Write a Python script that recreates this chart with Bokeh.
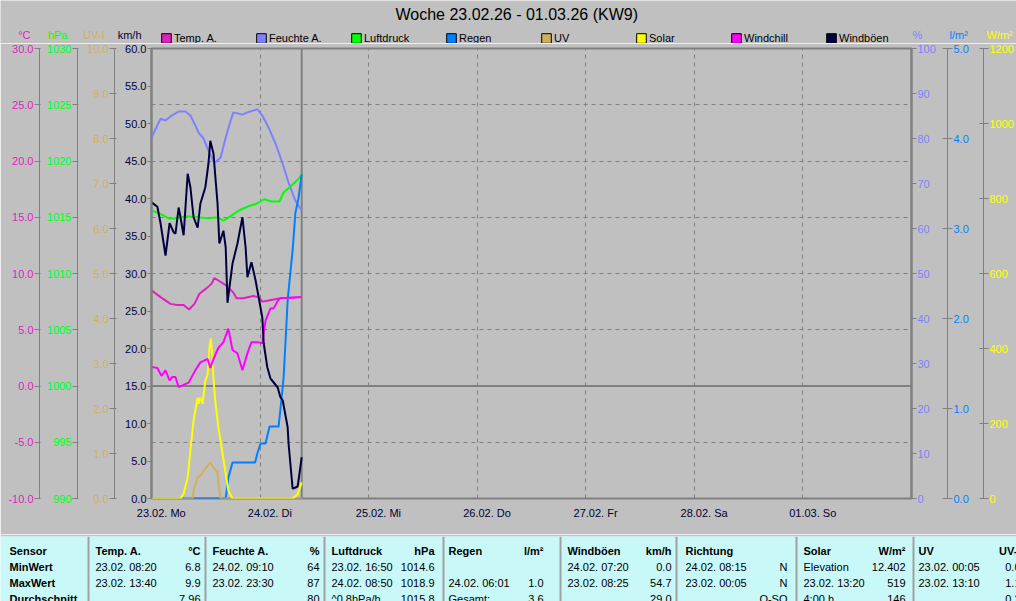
from bokeh.plotting import figure
from bokeh.models import (Range1d, LinearAxis, FixedTicker, NumeralTickFormatter,
                          Span, Label, Legend, LegendItem)
from bokeh.layouts import column
from bokeh.embed import file_html
from bokeh.resources import INLINE
from bokeh.core.properties import value

NAN = float("nan")

# ---------------- data (x = hours since 23.02. 00:00) ----------------
temp_t = [0.0, 2.0, 4.2, 5.7, 7.1, 8.3, 9.5, 10.6, 12.2, 13.3, 13.9, 15.5, 16.6, 18.1, 18.8, 20.3, 22.5, 23.7, 24.5, 25.9, 28.5, 33.2]
temp_v = [8.5, 7.9, 7.3, 7.2, 7.2, 6.8, 7.3, 8.2, 8.7, 9.1, 9.6, 9.2, 8.9, 8.3, 7.8, 7.8, 8.0, 7.9, 7.5, 7.6, 7.8, 7.9]

hum_t = [0.0, 2.0, 3.1, 4.2, 6.0, 7.5, 8.6, 9.7, 10.4, 11.5, 12.6, 13.7, 14.1, 15.3, 16.4, 17.5, 18.1, 20.1, 21.2, 23.4, 24.5, 25.9, 27.4, 29.0, 30.3, 31.8, 33.2]
hum_v = [80.2, 84.4, 84.0, 84.9, 86.0, 86.0, 85.1, 82.9, 81.3, 80.0, 77.3, 74.9, 74.7, 75.8, 80.2, 84.0, 85.8, 85.3, 85.8, 86.5, 85.1, 82.4, 78.9, 74.4, 70.2, 66.2, 64.0]

pres_t = [0.0, 2.0, 3.8, 5.7, 7.5, 10.4, 12.4, 14.6, 15.9, 17.5, 19.3, 21.6, 23.2, 24.9, 26.5, 28.3, 29.2, 30.9, 32.5, 33.2]
pres_v = [1015.6, 1015.3, 1014.9, 1014.9, 1015.1, 1015.0, 1014.9, 1015.0, 1014.7, 1015.1, 1015.6, 1016.0, 1016.2, 1016.6, 1016.4, 1016.4, 1017.2, 1017.8, 1018.4, 1018.8]

rain_t = [0.0, 16.4, 17.0, 17.9, 22.9, 23.4, 24.1, 25.2, 26.1, 28.1, 28.7, 29.2, 29.6, 30.1, 30.3, 31.2, 31.8, 32.5, 33.2]
rain_v = [0.0, 0.0, 0.23, 0.40, 0.40, 0.50, 0.61, 0.61, 0.80, 0.80, 1.09, 1.34, 1.72, 2.20, 2.31, 2.76, 3.17, 3.34, 3.60]

uv_t = [0.0, 9.1, 9.3, 10.2, 10.8, 11.9, 13.0, 13.7, 14.6, 14.8, 15.3, 33.2]
uv_v = [0.0, 0.0, 0.18, 0.47, 0.51, 0.67, 0.80, 0.69, 0.58, 0.33, 0.0, 0.0]

sol_t = [0.0, 6.4, 7.1, 8.0, 8.6, 9.3, 10.2, 10.4, 10.8, 11.3, 11.9, 12.4, 12.8, 13.1, 13.4, 13.7, 14.1, 14.8, 15.7, 16.4, 17.0, 17.9, 31.2, 32.3, 33.2]
sol_v = [0, 0, 13, 56, 128, 208, 269, 253, 269, 253, 315, 330, 400, 427, 390, 320, 261, 189, 120, 67, 21, 0, 0, 11, 43]

wc_t = [0.0, 1.3, 2.2, 3.1, 4.0, 4.6, 5.3, 6.0, 8.2, 9.7, 10.8, 12.4, 13.0, 13.7, 14.8, 15.9, 17.0, 17.9, 19.0, 20.1, 21.2, 22.1, 23.4, 24.5, 25.2, 26.3, 27.0, 28.1, 28.5, 33.2]
wc_v = [1.7, 1.6, 0.9, 1.4, 0.5, 0.8, 0.8, -0.1, 0.3, 1.4, 2.1, 2.4, 1.6, 2.4, 3.4, 3.9, 5.1, 3.2, 2.9, 1.4, 2.9, 3.9, 3.9, 3.8, 5.8, 6.9, 6.9, 7.7, 7.8, 7.9]

gust_t = [0.0, 1.3, 2.0, 3.1, 4.0, 4.9, 5.3, 6.0, 6.4, 7.1, 8.0, 8.6, 9.3, 10.2, 10.8, 11.9, 12.6, 13.0, 13.7, 14.6, 15.0, 15.9, 16.4, 16.8, 17.9, 19.0, 20.1, 20.8, 21.2, 22.1, 23.0, 23.7, 24.5, 24.8, 25.6, 26.3, 27.9, 28.5, 29.0, 30.1, 30.3, 31.2, 32.3, 32.5, 33.2]
gust_v = [39.5, 38.9, 36.7, 32.4, 36.7, 35.5, 35.3, 38.8, 37.5, 35.1, 43.3, 41.5, 37.5, 36.1, 39.3, 41.5, 44.7, 47.7, 46.0, 39.3, 34.0, 35.7, 33.5, 26.1, 31.3, 34.0, 37.5, 33.5, 29.5, 31.5, 29.1, 26.8, 24.1, 20.7, 17.5, 16.0, 14.8, 13.5, 13.1, 9.5, 7.3, 1.3, 1.6, 2.4, 5.5]

now_h = 33.2  # current time marker (24.02. 09:10)

title_text = "Woche 23.02.26 - 01.03.26 (KW9)"
day_labels = ["23.02.  Mo", "24.02.  Di", "25.02.  Mi", "26.02.  Do", "27.02.  Fr", "28.02.  Sa", "01.03.  So"]
series_names = ["Temp. A.", "Feuchte A.", "Luftdruck", "Regen", "UV", "Solar", "Windchill", "Windböen"]
unit_left = ["km/h", "UV-I", "hPa", "°C"]
unit_right = ["%", "l/m²", "W/m²"]

# table data
row_names = ["Sensor", "MinWert", "MaxWert", "Durchschnitt"]
headers = ["Temp. A.", "Feuchte A.", "Luftdruck", "Regen", "Windböen", "Richtung", "Solar", "UV"]
units = ["°C", "%", "hPa", "l/m²", "km/h", "", "W/m²", "UV-I"]
min_when = ["23.02.  08:20", "24.02.  09:10", "23.02.  16:50", "", "24.02.  07:20", "24.02.  08:15", "Elevation", "23.02.  00:05"]
min_val = ["6.8", "64", "1014.6", "", "0.0", "N", "12.402", "0.0"]
max_when = ["23.02.  13:40", "23.02.  23:30", "24.02.  08:50", "24.02.  06:01", "23.02.  08:25", "23.02.  00:05", "23.02.  13:20", "23.02.  13:10"]
max_val = ["9.9", "87", "1018.9", "1.0", "54.7", "N", "519", "1.1"]
avg_when = ["", "", "^0.8hPa/h", "Gesamt:", "", "", "4:00 h", ""]
avg_val = ["7.96", "80", "1015.8", "3.6", "29.0", "O-SO", "146", "0.2"]

# ---------------- styles / layout constants ----------------
FONT = "Liberation Sans"
BG = "#C0C0C0"
GL = "#808080"
C_TEMP = "#E020C0"
C_HUM = "#8080FF"
C_PRES = "#00FF00"
C_RAIN = "#0080FF"
C_UV = "#D0B060"
C_SOL = "#FFFF00"
C_WC = "#FF00FF"
C_GUST = "#000040"

W = 1016
HEAD_H = 43
left_axis_x = [151, 114, 77, 40]     # screen x of left axis lines (km/h, UV, hPa, degC)
right_axis_x = [911, 948, 985]       # screen x of right axis lines (%, l/m2, W/m2)

# ---------------- header (title, legend, units) ----------------
hd = figure(width=W, height=HEAD_H, x_range=Range1d(0, W), y_range=Range1d(HEAD_H, 0),
            output_backend="svg", toolbar_location=None, x_axis_type=None, y_axis_type=None,
            min_border=0, background_fill_color=BG, border_fill_color=BG, outline_line_color=None)
hd.frame_align = False
hd.grid.visible = False

hd.add_layout(Label(x=395, y=14, text=title_text, text_align="left", text_baseline="middle",
                    text_font=FONT, text_font_size="16px", text_color="#000000"))
left_cols = [C_GUST, C_UV, C_PRES, C_TEMP]
for ax_x, u, c in zip(left_axis_x, unit_left, left_cols):
    hd.add_layout(Label(x=ax_x - 10, y=34, text=u, text_align="right", text_baseline="middle",
                        text_font=FONT, text_font_size="11px", text_color=c))
right_cols = [C_HUM, C_RAIN, C_SOL]
for ax_x, u, c in zip(right_axis_x, unit_right, right_cols):
    hd.add_layout(Label(x=ax_x + 1, y=34, text=u, text_align="left", text_baseline="middle",
                        text_font=FONT, text_font_size="11px", text_color=c))

series_colors = [C_TEMP, C_HUM, C_PRES, C_RAIN, C_UV, C_SOL, C_WC, C_GUST]
items = []
for name, c in zip(series_names, series_colors):
    # swatch renderer: a single NaN quad (draws nothing in the plot, only in the legend)
    r = hd.quad(left=[NAN], right=[NAN], top=[NAN], bottom=[NAN],
                fill_color=c, line_color="black", line_width=1)
    items.append(LegendItem(label=name, renderers=[r]))
legend = Legend(items=items, orientation="horizontal", location=(160, -1),
                glyph_width=12, glyph_height=12, label_standoff=2, label_width=70,
                label_height=12, spacing=11, padding=0, margin=0,
                border_line_color=None, background_fill_alpha=0,
                label_text_font=FONT, label_text_font_size="11px", label_text_color="black")
hd.add_layout(legend)

# ---------------- main chart ----------------
p = figure(width=W, height=534 - HEAD_H, x_range=Range1d(0, 168), y_range=Range1d(0, 60),
           output_backend="svg", toolbar_location=None,
           min_border_left=151, min_border_right=105, min_border_top=48 - HEAD_H, min_border_bottom=36,
           background_fill_color=BG, border_fill_color=BG,
           outline_line_color=GL, outline_line_width=2)
p.frame_align = False

p.extra_y_ranges = {
    "temp": Range1d(-10, 30), "hpa": Range1d(990, 1030), "uv": Range1d(0, 10),
    "hum": Range1d(0, 100), "rain": Range1d(0, 5), "sol": Range1d(0, 1200),
}


def style(ax, color, ticks, fmt, tin, tout, pad, lw=1):
    ax.ticker = FixedTicker(ticks=ticks)
    ax.formatter = NumeralTickFormatter(format=fmt)
    ax.major_label_text_color = color
    ax.major_label_text_font = FONT
    ax.major_label_text_font_size = "11px"
    ax.major_label_standoff = 1
    ax.major_tick_in = tin
    ax.major_tick_out = tout
    ax.major_tick_line_color = GL
    ax.minor_tick_line_color = None
    ax.axis_line_color = GL
    ax.axis_line_width = lw
    if pad is not None:
        ax.axis_label = " "
        ax.axis_label_text_font_size = "1px"
        ax.axis_label_text_color = BG
        ax.axis_label_standoff = pad


style(p.yaxis[0], C_GUST, list(range(0, 61, 5)), "0.0", 0, 4, 3, lw=2)
ax_uv = LinearAxis(y_range_name="uv")
style(ax_uv, C_UV, list(range(0, 11)), "0.0", 2, 5, 2)
p.add_layout(ax_uv, "left")
ax_hpa = LinearAxis(y_range_name="hpa")
style(ax_hpa, C_PRES, list(range(990, 1031, 5)), "0", 1, 5, 0)
p.add_layout(ax_hpa, "left")
ax_t = LinearAxis(y_range_name="temp")
style(ax_t, C_TEMP, list(range(-10, 31, 5)), "0.0", 1, 5, None)
p.add_layout(ax_t, "left")

ax_h = LinearAxis(y_range_name="hum")
style(ax_h, C_HUM, list(range(0, 101, 10)), "0", 0, 5, 5, lw=2)
p.add_layout(ax_h, "right")
ax_r = LinearAxis(y_range_name="rain")
style(ax_r, C_RAIN, [0, 1, 2, 3, 4, 5], "0.0", 5, 5, 8)
p.add_layout(ax_r, "right")
ax_s = LinearAxis(y_range_name="sol")
style(ax_s, C_SOL, list(range(0, 1201, 200)), "0", 4, 5, None)
p.add_layout(ax_s, "right")

# x axis: day labels
xa = p.xaxis[0]
day_ticks = [24 * i + 2.5 for i in range(len(day_labels))]
xa.ticker = FixedTicker(ticks=day_ticks)
xa.major_label_overrides = {t: lab for t, lab in zip(day_ticks, day_labels)}
xa.major_tick_out = 0
xa.major_tick_in = 0
xa.major_tick_line_color = None
xa.minor_tick_line_color = None
xa.axis_line_color = None
xa.major_label_text_font = FONT
xa.major_label_text_font_size = "11px"
xa.major_label_text_color = "#000030"
xa.major_label_standoff = 8

# grids
p.xgrid.ticker = FixedTicker(ticks=[24 * i for i in range(1, 7)])
p.xgrid.grid_line_color = GL
p.xgrid.grid_line_dash = "4 4"
p.ygrid.y_range_name = "temp"
p.ygrid.ticker = FixedTicker(ticks=[-5, 5, 10, 15, 20, 25])
p.ygrid.grid_line_color = GL
p.ygrid.grid_line_dash = "4 4"

p.add_layout(Span(location=0, dimension="width", y_range_name="temp",
                  line_color=GL, line_width=2, level="underlay"))
p.add_layout(Span(location=now_h, dimension="height",
                  line_color=GL, line_width=2, level="underlay"))

# series
series = [
    (temp_t, temp_v, C_TEMP, "temp"),
    (hum_t, hum_v, C_HUM, "hum"),
    (pres_t, pres_v, C_PRES, "hpa"),
    (rain_t, rain_v, C_RAIN, "rain"),
    (uv_t, uv_v, C_UV, "uv"),
    (sol_t, sol_v, C_SOL, "sol"),
    (wc_t, wc_v, C_WC, "temp"),
    (gust_t, gust_v, C_GUST, "default"),
]
for t, v, c, rn in series:
    p.line(x=t, y=v, line_color=c, line_width=2, y_range_name=rn)

# ---------------- table ----------------
tb = figure(width=W, height=67, x_range=Range1d(0, W), y_range=Range1d(65, 0),
            output_backend="svg", toolbar_location=None, x_axis_type=None, y_axis_type=None,
            min_border_left=0, min_border_right=0, min_border_bottom=0, min_border_top=2,
            background_fill_color="#C8F8F8", border_fill_color=BG, outline_line_color=None)
tb.frame_align = False
tb.grid.visible = False

col_left = [95, 212, 331, 448, 567, 685, 803, 918]
col_right = [200, 319, 434, 543, 671, 787, 905, 1020]
seps = [88, 205, 324, 443, 560, 676, 796, 913]
row_y = [14, 30, 46, 62]

tb.segment(x0=seps, y0=[0] * len(seps), x1=seps, y1=[65] * len(seps), line_color="#A0A0A0", line_width=2)

tf = value(FONT)
tsz = value("11px")
tb.text(x=[9] * 4, y=row_y, text=row_names, text_align="left", text_baseline="middle",
        text_font=tf, text_font_size=tsz, text_font_style="bold", text_color="black")
tb.text(x=col_left, y=[row_y[0]] * 8, text=headers, text_align="left", text_baseline="middle",
        text_font=tf, text_font_size=tsz, text_font_style="bold", text_color="black")
tb.text(x=col_right, y=[row_y[0]] * 8, text=units, text_align="right", text_baseline="middle",
        text_font=tf, text_font_size=tsz, text_font_style="bold", text_color="black")
for ry, whens, vals in [(row_y[1], min_when, min_val), (row_y[2], max_when, max_val), (row_y[3], avg_when, avg_val)]:
    tb.text(x=col_left, y=[ry] * 8, text=whens, text_align="left", text_baseline="middle",
            text_font=tf, text_font_size=tsz, text_color="black")
    tb.text(x=col_right, y=[ry] * 8, text=vals, text_align="right", text_baseline="middle",
            text_font=tf, text_font_size=tsz, text_color="black")

layout = column(hd, p, tb, spacing=0)
open("out.html", "w").write(file_html(layout, INLINE))
